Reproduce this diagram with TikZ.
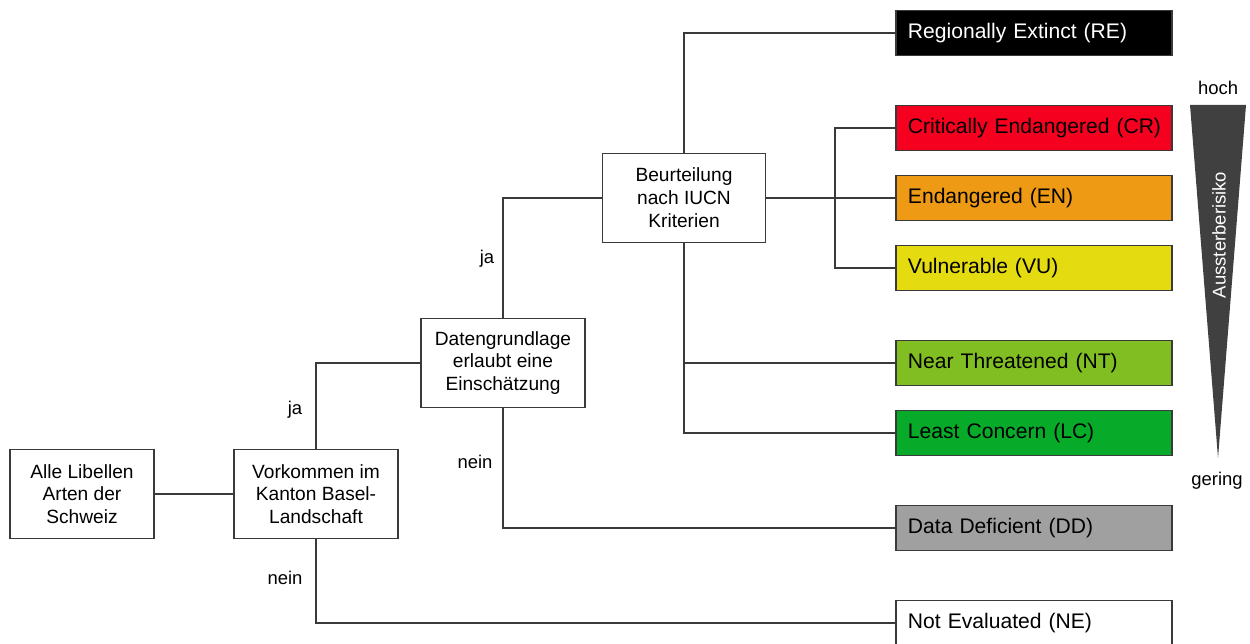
\documentclass[tikz,border=0pt]{standalone}
\usepackage{fontspec}
\setmainfont{Liberation Sans}
\definecolor{reblack}{HTML}{000000}
\definecolor{crred}{HTML}{F5001F}
\definecolor{enorange}{HTML}{EE9A14}
\definecolor{vuyellow}{HTML}{E4DB10}
\definecolor{ntgreen}{HTML}{80BE22}
\definecolor{lcgreen}{HTML}{08AA2A}
\definecolor{ddgrey}{HTML}{A0A0A0}
\definecolor{linegrey}{HTML}{3A3A3A}
\definecolor{wedge}{HTML}{404040}
\begin{document}
\begin{tikzpicture}[x=0.02cm,y=-0.02cm,
		frage/.style={draw=linegrey,line width=1.1pt,fill=white,align=center,minimum height=1.78cm,font=\fontsize{10.9}{13}\selectfont},
		kat/.style={draw=linegrey,line width=1.1pt,anchor=west,text width=5.52cm,inner xsep=0pt,minimum height=0.9cm,align=left,execute at begin node={\hspace*{0.24cm}},font=\fontsize{12}{14}\selectfont},
		link/.style={draw=linegrey,line width=1.1pt},
		lbl/.style={font=\fontsize{10.5}{12}\selectfont}]
			\useasboundingbox (0,0) rectangle (1250,644);
			\node[frage,minimum width=2.88cm] (alle) at (82,494) {Alle Libellen\\Arten der\\Schweiz};
			\node[frage,minimum width=3.28cm] (vork) at (316,494) {Vorkommen im\\Kanton Basel-\\Landschaft};
			\node[frage,minimum width=3.28cm] (daten) at (503,363) {Datengrundlage\\erlaubt eine\\Einschätzung};
			\node[frage,minimum width=3.26cm] (beurt) at (684,198) {Beurteilung\\nach IUCN\\Kriterien};
			\node[kat,fill=reblack,text=white] (re) at (895,33) {Regionally Extinct (RE)};
			\node[kat,fill=crred] (cr) at (895,128) {Critically Endangered (CR)};
			\node[kat,fill=enorange] (en) at (895,198) {Endangered (EN)};
			\node[kat,fill=vuyellow] (vu) at (895,268) {Vulnerable (VU)};
			\node[kat,fill=ntgreen] (nt) at (895,363) {Near Threatened (NT)};
			\node[kat,fill=lcgreen] (lc) at (895,433) {Least Concern (LC)};
			\node[kat,fill=ddgrey] (dd) at (895,528) {Data Deficient (DD)};
			\node[kat,fill=white] (ne) at (895,623) {Not Evaluated (NE)};
			\coordinate (split) at (835,198);
			\draw[link] (alle) -- (vork);
			\draw[link] (vork.north) |- (daten.west);
			\draw[link] (vork.south) |- (ne.west);
			\draw[link] (daten.north) |- (beurt.west);
			\draw[link] (daten.south) |- (dd.west);
			\draw[link] (beurt.north) |- (re.west);
			\draw[link] (beurt.east) -- (en.west);
			\draw[link] (cr.west) -| (split) |- (vu.west);
			\draw[link] (beurt.south) |- (lc.west);
			\draw[link] (beurt.south) |- (nt.west);
			\node[lbl] (ja1) at (295,410) {ja};
			\node[lbl] (nein1) at (285,578) {nein};
			\node[lbl] (ja2) at (487,259) {ja};
			\node[lbl] (nein2) at (475,462) {nein};
			\fill[wedge] (1190,105) -- (1246,105) -- (1218,458) -- cycle;
			\node[lbl] (hoch) at (1218,88) {hoch};
			\node[lbl] (gering) at (1217,481) {gering};
			\node[lbl,text=white,rotate=90] (risiko) at (1219,235) {Aussterberisiko};
		\end{tikzpicture}
\end{document}
